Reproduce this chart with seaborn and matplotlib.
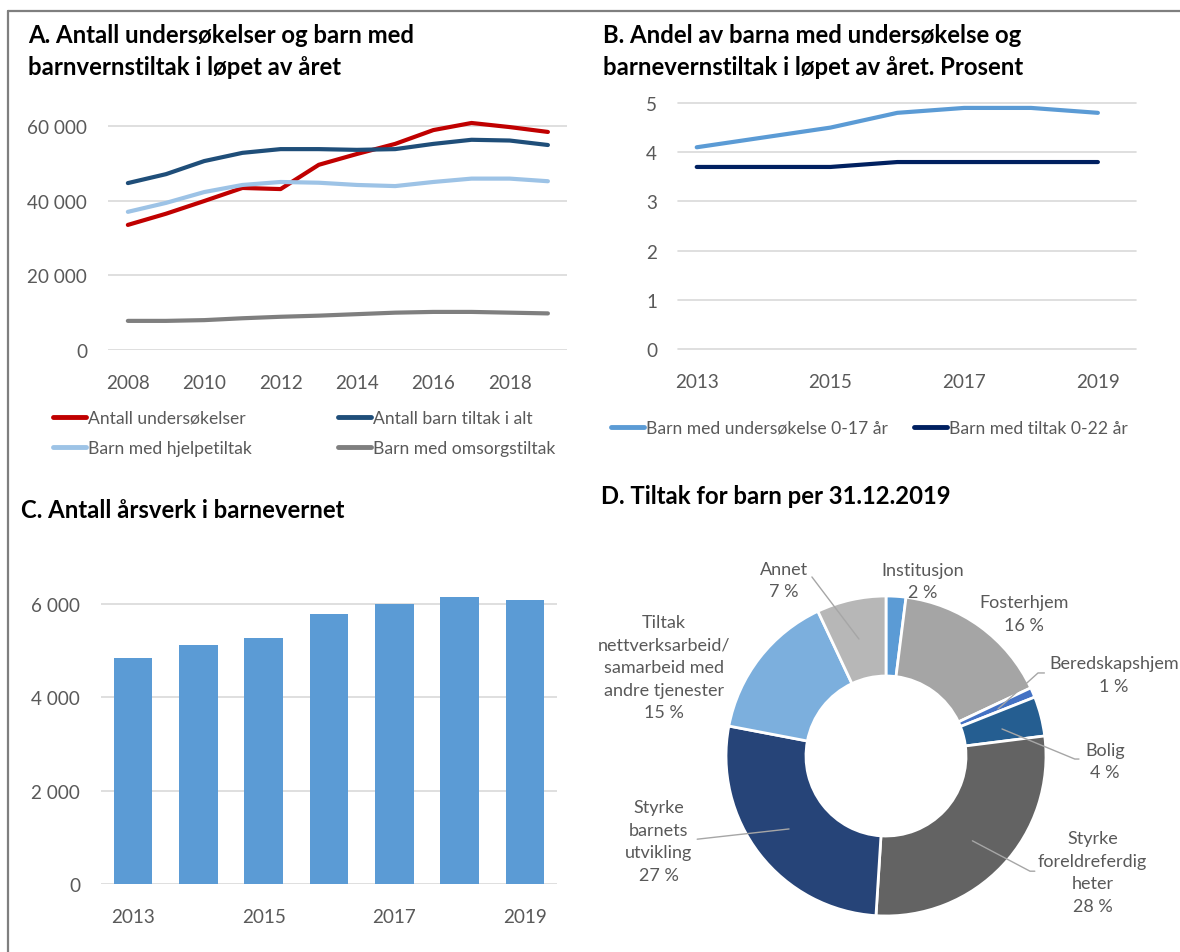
import matplotlib
matplotlib.use("Agg")
import matplotlib.pyplot as plt
import seaborn as sns
import pandas as pd
from matplotlib.lines import Line2D
from matplotlib.ticker import FuncFormatter

# ---------------- data ----------------
years_a = list(range(2008, 2020))
undersokelser = [33500, 36500, 39900, 43400, 43100, 49600, 52500, 55200, 58900, 60800, 59700, 58400]
tiltak_alt = [44700, 47100, 50600, 52800, 53800, 53800, 53600, 53800, 55200, 56300, 56100, 54900]
hjelpetiltak = [37000, 39400, 42300, 44200, 45000, 44800, 44200, 43900, 45000, 45900, 45900, 45200]
omsorgstiltak = [7800, 7800, 8000, 8500, 8900, 9200, 9600, 10000, 10200, 10200, 10000, 9800]
series_a = ["Antall undersøkelser", "Antall barn tiltak i alt",
            "Barn med hjelpetiltak", "Barn med omsorgstiltak"]
ticks_a = [2008, 2010, 2012, 2014, 2016, 2018]

years_b = list(range(2013, 2020))
andel_undersokelse = [4.1, 4.3, 4.5, 4.8, 4.9, 4.9, 4.8]
andel_tiltak = [3.7, 3.7, 3.7, 3.8, 3.8, 3.8, 3.8]
series_b = ["Barn med undersøkelse 0-17 år", "Barn med tiltak 0-22 år"]
ticks_b = [2013, 2015, 2017, 2019]

years_c = ["2013", "2014", "2015", "2016", "2017", "2018", "2019"]
arsverk = [4850, 5120, 5280, 5780, 6000, 6150, 6090]
ticklabels_c = ["2013", "", "2015", "", "2017", "", "2019"]

pie_labels = ["Institusjon", "Fosterhjem", "Beredskapshjem", "Bolig",
              "Styrke\nforeldreferdig\nheter", "Styrke\nbarnets\nutvikling",
              "Tiltak\nnettverksarbeid/\nsamarbeid med\nandre tjenester", "Annet"]
pie_values = [2, 16, 1, 4, 28, 27, 15, 7]

titles = {
    "A": ["A. Antall undersøkelser og barn med", "barnvernstiltak i løpet av året"],
    "B": ["B. Andel av barna med undersøkelse og", "barnevernstiltak i løpet av året. Prosent"],
    "C": ["C. Antall årsverk i barnevernet"],
    "D": ["D. Tiltak for barn per 31.12.2019"],
}

# ---------------- style ----------------
sns.set_theme(style="white")
plt.rcParams["font.family"] = ["Lato", "DejaVu Sans"]
TICK = "#595959"
GRID = "#D9D9D9"
W, H = 1180, 953
fig = plt.figure(figsize=(W / 100, H / 100), dpi=100)


def fx(px):
    return px / W


def fy(py):
    return 1 - py / H


def box(l, t, r, b):
    return [fx(l), fy(b), fx(r) - fx(l), fy(t) - fy(b)]


def thousands(v, p):
    return f"{int(round(v)):,}".replace(",", " ")


def style_axes(ax, xpad=17, ypad=15, fs=13.6):
    for s in ax.spines.values():
        s.set_visible(False)
    ax.grid(axis="y", color=GRID, lw=1.2)
    ax.grid(axis="x", visible=False)
    ax.set_axisbelow(True)
    ax.tick_params(axis="both", length=0, labelsize=fs, colors=TICK)
    ax.tick_params(axis="x", pad=xpad)
    ax.tick_params(axis="y", pad=ypad)
    ax.set_xlabel("")
    ax.set_ylabel("")


# frame lines
fig.add_artist(Line2D([fx(8), 1], [fy(12), fy(12)], color="#7F7F7F", lw=1.6))
fig.add_artist(Line2D([fx(8), fx(8)], [fy(12), 0], color="#7F7F7F", lw=1.6))

# titles
title_kw = dict(fontsize=17.2, fontweight="bold", color="black", va="baseline", ha="left")
fig.text(fx(28), fy(43), titles["A"][0], **title_kw)
fig.text(fx(28), fy(75), titles["A"][1], **title_kw)
fig.text(fx(603), fy(43), titles["B"][0], **title_kw)
fig.text(fx(603), fy(75), titles["B"][1], **title_kw)
fig.text(fx(21), fy(518), titles["C"][0], **title_kw)
fig.text(fx(601), fy(504), titles["D"][0], **title_kw)

# ---------------- panel A ----------------
axA = fig.add_axes(box(108, 119.5, 567, 351))
df_a = pd.DataFrame({"year": years_a * 4,
                     "value": undersokelser + tiltak_alt + hjelpetiltak + omsorgstiltak,
                     "serie": sum([[s] * len(years_a) for s in series_a], [])})
pal_a = dict(zip(series_a, ["#C00000", "#1F4E79", "#9DC3E6", "#7F7F7F"]))
sns.lineplot(data=df_a, x="year", y="value", hue="serie", palette=pal_a,
             linewidth=3, ax=axA, legend=False)
for ln in axA.get_lines():
    ln.set_solid_capstyle("round")
    ln.set_clip_on(False)
axA.set_xlim(2007.48, 2019.5)
axA.set_ylim(0, 62000)
axA.set_yticks([0, 20000, 40000, 60000])
axA.set_xticks(ticks_a)
axA.yaxis.set_major_formatter(FuncFormatter(thousands))
style_axes(axA)
hA = {s: Line2D([], [], color=pal_a[s], lw=3.5) for s in series_a}
order_a = [series_a[0], series_a[2], series_a[1], series_a[3]]
axA.legend([hA[s] for s in order_a], order_a, ncol=2, frameon=False,
           loc="upper left", bbox_to_anchor=(fx(53), fy(411)), bbox_transform=fig.transFigure,
           borderpad=0, borderaxespad=0, handlelength=1.9, handletextpad=0.1,
           columnspacing=4.9, labelspacing=0.78, fontsize=12.6, labelcolor=TICK)

# ---------------- panel B ----------------
axB = fig.add_axes(box(678, 104, 1136, 350))
df_b = pd.DataFrame({"year": years_b * 2,
                     "value": andel_undersokelse + andel_tiltak,
                     "serie": [series_b[0]] * len(years_b) + [series_b[1]] * len(years_b)})
pal_b = dict(zip(series_b, ["#5B9BD5", "#002060"]))
sns.lineplot(data=df_b, x="year", y="value", hue="serie", palette=pal_b,
             linewidth=3, ax=axB, legend=False)
for ln in axB.get_lines():
    ln.set_solid_capstyle("round")
    ln.set_clip_on(False)
axB.set_xlim(2012.72, 2019.57)
axB.set_ylim(0, 5)
axB.set_yticks([0, 1, 2, 3, 4, 5])
axB.set_xticks(ticks_b)
style_axes(axB)
for l in axB.get_ygridlines():
    l.set_clip_on(False)
hB = [Line2D([], [], color=pal_b[s], lw=3.5) for s in series_b]
axB.legend(hB, series_b, ncol=2, frameon=False,
           loc="upper left", bbox_to_anchor=(fx(611), fy(421)), bbox_transform=fig.transFigure,
           borderpad=0, borderaxespad=0, handlelength=1.9, handletextpad=0.1,
           columnspacing=1.5, fontsize=12.6, labelcolor=TICK)

# ---------------- panel C ----------------
axC = fig.add_axes(box(101, 591, 557, 885))
df_c = pd.DataFrame({"year": years_c, "value": arsverk})
sns.barplot(data=df_c, x="year", y="value", color="#5B9BD5", saturation=1,
            width=0.59, linewidth=0, ax=axC)
axC.set_xlim(-0.49, 6.49)
axC.set_ylim(0, 6300)
axC.set_yticks([0, 2000, 4000, 6000])
axC.yaxis.set_major_formatter(FuncFormatter(thousands))
axC.set_xticks(range(len(years_c)))
axC.set_xticklabels(ticklabels_c)
style_axes(axC)

# ---------------- panel D ----------------
R = 160
axD = fig.add_axes(box(886 - 1.1 * R, 757 - 1.1 * R, 886 + 1.1 * R, 757 + 1.1 * R))
pie_colors = ["#5B9BD5", "#A5A5A5", "#4472C4", "#255E91", "#636363", "#264478", "#7CAFDD", "#B7B7B7"]
axD.pie(pie_values, colors=pie_colors, startangle=90, counterclock=False, radius=1,
        wedgeprops=dict(width=0.5, edgecolor="white", linewidth=2))
axD.set_xlim(-1.1, 1.1)
axD.set_ylim(-1.1, 1.1)
axD.set_aspect("equal")
axD.axis("off")

label_pos = [(0.23, 1.095), (0.86, 0.89), (1.425, 0.51), (1.37, -0.03),
             (1.29, -0.725), (-1.42, -0.53), (-1.39, 0.556), (-0.64, 1.10)]
for lab, val, (x, y) in zip(pie_labels, pie_values, label_pos):
    axD.text(x, y, f"{lab}\n{val} %", ha="center", va="center", fontsize=13,
             color=TICK, linespacing=1.5, clip_on=False)

leaders = [
    [(-0.463, 1.119), (-0.169, 0.731)],
    [(0.99, 0.519), (0.95, 0.519), (0.70, 0.294)],
    [(1.206, -0.019), (1.18, -0.019), (0.725, 0.169)],
    [(0.93, -0.72), (0.9, -0.72), (0.54, -0.53)],
    [(-1.18, -0.52), (-0.606, -0.456)],
]
for pts in leaders:
    xs, ys = zip(*pts)
    axD.plot(xs, ys, color="#A6A6A6", lw=1, clip_on=False)

fig.savefig("out.png", dpi=100)
